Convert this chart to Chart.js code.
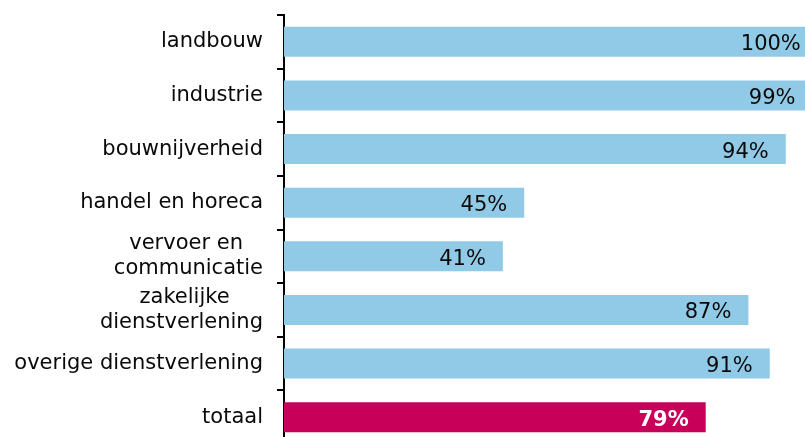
<!DOCTYPE html>
<html>
<head>
<meta charset="utf-8">
<script src="https://cdn.jsdelivr.net/npm/chart.js@4"></script>
<style>
  html, body { margin: 0; padding: 0; background: #fff; overflow: hidden; }
  #wrap { width: 805px; height: 437px; overflow: hidden; }
</style>
</head>
<body>
<div id="wrap"><canvas id="chart_sectors" width="805" height="444"></canvas></div>
<script>
const categories = [
    'landbouw',
    'industrie',
    'bouwnijverheid',
    'handel en horeca',
    ['vervoer en   ', 'communicatie'],
    ['zakelijke     ', 'dienstverlening'],
    'overige dienstverlening',
    'totaal'
];
const values = [100, 99, 94, 45, 41, 87, 91, 79];
const barColors = ['#91CAE7', '#91CAE7', '#91CAE7', '#91CAE7', '#91CAE7', '#91CAE7', '#91CAE7', '#C8005A'];
const labelColors = ['#0a0a0a', '#0a0a0a', '#0a0a0a', '#0a0a0a', '#0a0a0a', '#0a0a0a', '#0a0a0a', '#fff'];
const labelWeights = ['normal', 'normal', 'normal', 'normal', 'normal', 'normal', 'normal', 'bold'];

const FONT = '"DejaVu Sans", Verdana, sans-serif';

// percentages drawn inside the bar ends
const valueLabels = {
    id: 'valueLabels',
    afterDatasetsDraw(chart) {
        const ctx = chart.ctx;
        const xs = chart.scales.x;
        const meta = chart.getDatasetMeta(0);
        ctx.save();
        ctx.textAlign = 'right';
        ctx.textBaseline = 'middle';
        meta.data.forEach((bar, i) => {
            ctx.font = labelWeights[i] + ' 21px ' + FONT;
            ctx.fillStyle = labelColors[i];
            ctx.fillText(values[i] + '%', xs.getPixelForValue(values[i]) - 17, bar.y + 3);
        });
        ctx.restore();
    }
};

const config_sectors = {
    type: 'bar',
    data: {
        labels: categories,
        datasets: [{
            data: values,
            backgroundColor: barColors,
            borderWidth: 0,
            barPercentage: 0.56,
            categoryPercentage: 1
        }]
    },
    options: {
        indexAxis: 'y',
        responsive: false,
        animation: false,
        layout: { padding: { top: 15, right: 0, bottom: 0, left: 0 } },
        plugins: {
            legend: { display: false },
            tooltip: { enabled: false }
        },
        scales: {
            x: {
                display: false,
                min: 0,
                max: 97.6
            },
            y: {
                afterFit: axis => {
                    axis.width = 284;
                    axis.paddingTop = 0;
                    axis.paddingBottom = 0;
                },
                border: { display: true, color: '#000', width: 2 },
                grid: {
                    offset: true,
                    drawOnChartArea: false,
                    color: '#000',
                    lineWidth: 2,
                    tickLength: 7
                },
                ticks: {
                    color: '#0a0a0a',
                    padding: 14,
                    font: { family: FONT, size: 21, lineHeight: 1.2 }
                }
            }
        }
    },
    plugins: [valueLabels]
};

const myChart_sectors = new Chart(document.getElementById('chart_sectors'), config_sectors);
</script>
</body>
</html>
